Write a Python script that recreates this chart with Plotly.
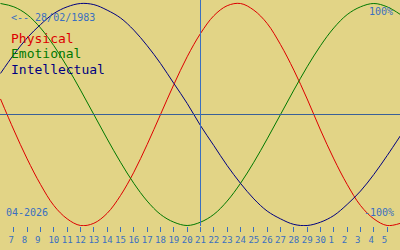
import plotly.graph_objects as go

# Days of the displayed period (April 2026 days 6..30, then May 1..6 as 31..36)
days = list(range(6, 37))

physical = [14, -14, -40, -63, -82, -94, -100, -98, -89, -73, -52, -27, 0, 27, 52, 73,
            89, 98, 100, 94, 82, 63, 40, 14, -14, -40, -63, -82, -94, -100, -98]
emotional = [100, 97, 90, 78, 62, 43, 22, 0, -22, -43, -62, -78, -90, -97, -100, -97,
             -90, -78, -62, -43, -22, 0, 22, 43, 62, 78, 90, 97, 100, 97, 90]
intellectual = [37, 54, 69, 81, 91, 97, 100, 99, 94, 87, 76, 62, 46, 28, 10, -10,
                -28, -46, -62, -76, -87, -94, -99, -100, -97, -91, -81, -69, -54, -37, -19]

tick_days = list(range(7, 36))
tick_labels = ["7", "8", "9", "10", "11", "12", "13", "14", "15", "16", "17", "18", "19",
               "20", "21", "22", "23", "24", "25", "26", "27", "28", "29", "30",
               "1", "2", "3", "4", "5"]
today = 21
birth_label = "<-- 28/02/1983"
month_label = "04-2026"
series_names = ["Physical", "Emotional", "Intellectual"]
series_colors = ["#dd0000", "#007800", "#000080"]

BG = "#e2d486"
BLUE = "#3a6fc0"
LINEBLUE = "#3a6098"
MONO = "DejaVu Sans Mono"

fig = go.Figure()
for name, vals, col in zip(series_names, [physical, emotional, intellectual], series_colors):
    fig.add_trace(go.Scatter(x=days, y=vals, mode="lines", name=name,
                             line=dict(color=col, width=1, shape="spline"),
                             hoverinfo="skip"))

# zero line and today line
fig.add_shape(type="line", xref="paper", yref="y", x0=0, x1=1, y0=0, y1=0,
              line=dict(color=LINEBLUE, width=1), layer="above")
fig.add_shape(type="line", xref="x", yref="paper", x0=today, x1=today, y0=0, y1=1,
              line=dict(color=BLUE, width=1), layer="above")

labels = [l if len(l) == 2 else l + "\u00a0" for l in tick_labels]

PLOT_H = 226
fig.update_layout(
    width=400, height=250,
    margin=dict(l=0, r=0, t=0, b=250 - PLOT_H),
    paper_bgcolor=BG, plot_bgcolor=BG,
    showlegend=False,
    xaxis=dict(range=[5.9625, 35.9625], showgrid=False, zeroline=False, showline=False,
               tickmode="array", tickvals=tick_days, ticktext=labels, tickangle=0,
               ticks="outside", ticklen=5, tickwidth=1, tickcolor=BLUE,
               tickfont=dict(family=MONO, size=9, color=BLUE), fixedrange=True),
    yaxis=dict(range=[-100.45, 103.15], showgrid=False, zeroline=False, showline=False,
               showticklabels=False, fixedrange=True),
)

def px_y(py):
    return (PLOT_H - py) / float(PLOT_H)

def px_x(px):
    return px / 400.0

ann = [
    (birth_label, 10, 17.5, "left", 10, BLUE),
    (series_names[0], 10, 38, "left", 13, series_colors[0]),
    (series_names[1], 10, 53.5, "left", 13, series_colors[1]),
    (series_names[2], 10, 69, "left", 13, series_colors[2]),
    ("100%", 394, 11.5, "right", 10, BLUE),
    ("-100%", 395, 212, "right", 10, BLUE),
    (month_label, 5, 212.5, "left", 10, BLUE),
]
for text, x, y, anchor, size, col in ann:
    fig.add_annotation(text=text, xref="paper", yref="paper", x=px_x(x), y=px_y(y),
                       xanchor=anchor, yanchor="middle", showarrow=False,
                       borderpad=0, font=dict(family=MONO, size=size, color=col))

fig.write_html("out.html")
